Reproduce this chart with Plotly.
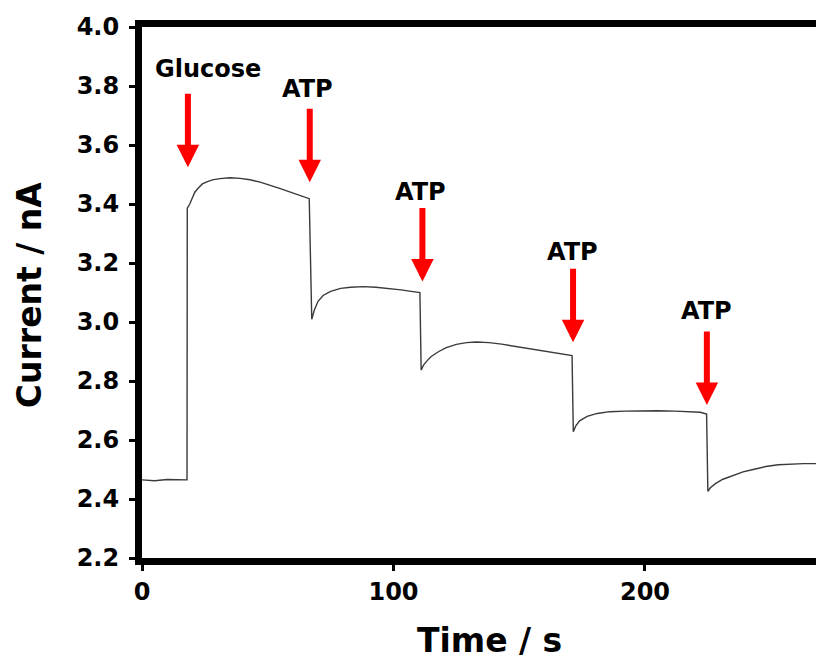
import plotly.graph_objects as go

# Amperometric trace
time_s = [0, 5, 10, 15, 17.9, 18.0,
          19, 20, 21, 22.5, 24, 26, 28, 31, 35, 39, 43, 47, 51, 55, 59, 63, 66.5,
          67.5, 68.5, 70, 72, 75, 79, 83, 88, 93, 98, 103, 107, 110.5,
          111, 112, 113.5, 115, 118, 121, 125, 129, 133, 138, 143, 148, 153, 158, 163, 167, 171,
          171.5, 172.5, 174, 177, 181, 186, 192, 198, 205, 212, 218, 222, 224.5,
          225, 226, 228, 231, 235, 239, 243, 248, 253, 258, 263, 268]
current_nA = [2.465, 2.462, 2.466, 2.465, 2.465, 3.386,
              3.40, 3.42, 3.44, 3.455, 3.468, 3.476, 3.482, 3.486, 3.489, 3.487, 3.482, 3.474, 3.464, 3.452, 3.440, 3.428, 3.418,
              3.009, 3.04, 3.07, 3.09, 3.104, 3.114, 3.118, 3.12, 3.118, 3.114, 3.109, 3.104, 3.10,
              2.837, 2.855, 2.87, 2.883, 2.90, 2.913, 2.924, 2.93, 2.932, 2.93, 2.925, 2.918, 2.911, 2.904, 2.896, 2.89, 2.886,
              2.628, 2.648, 2.665, 2.68, 2.69, 2.696, 2.698, 2.699, 2.699, 2.698, 2.696, 2.694, 2.688,
              2.426, 2.438, 2.452, 2.467, 2.48, 2.492, 2.50, 2.51, 2.516, 2.519, 2.52, 2.52]

# Injection events
event_labels = ["Glucose", "ATP", "ATP", "ATP", "ATP"]
event_time = [18.25, 66.7, 111.5, 171.4, 224.6]
arrow_tip_y = [3.525, 3.474, 3.137, 2.931, 2.719]
label_x = [26.2, 65.9, 110.7, 171.0, 224.6]
label_y = [3.858, 3.791, 3.44, 3.238, 3.036]

x_ticks = [0, 100, 200]
y_ticks = [2.2, 2.4, 2.6, 2.8, 3.0, 3.2, 3.4, 3.6, 3.8, 4.0]
y_ticklabels = ["%.1f" % v for v in y_ticks]

FONT = "DejaVu Sans"

fig = go.Figure()
fig.add_trace(go.Scatter(x=time_s, y=current_nA, mode="lines",
                         line=dict(color="#3a3a3a", width=1.4), showlegend=False))

ann = []
for t, tip in zip(event_time, arrow_tip_y):
    ann.append(dict(x=t, y=tip, xref="x", yref="y", text="", showarrow=True,
                    ax=0, ay=-75, arrowcolor="#ff0000", arrowwidth=6,
                    arrowhead=2, arrowsize=0.75, standoff=0))
for lab, lx, ly in zip(event_labels, label_x, label_y):
    ann.append(dict(x=lx, y=ly, xref="x", yref="y", text=lab, showarrow=False,
                    font=dict(family=FONT, size=24, color="black", weight="bold"),
                    xanchor="center", yanchor="middle"))
ann.append(dict(x=0.515, y=-0.1563, xref="paper", yref="paper", text="Time / s",
                showarrow=False,
                font=dict(family=FONT, size=33, color="black", weight="bold"),
                xanchor="center", yanchor="middle"))
ann.append(dict(x=-0.1677, y=0.495, xref="paper", yref="paper", text="Current / nA",
                showarrow=False, textangle=-90,
                font=dict(family=FONT, size=33, color="black", weight="bold"),
                xanchor="center", yanchor="middle"))

fig.update_layout(
    width=816, height=664,
    margin=dict(l=142, r=0, t=27, b=106),
    paper_bgcolor="white", plot_bgcolor="white",
    annotations=ann,
    xaxis=dict(range=[0, 268], tickvals=x_ticks, showgrid=False, zeroline=False,
               showline=True, linecolor="black", linewidth=7, mirror=True,
               ticks="outside", ticklen=6, tickwidth=3, tickcolor="black",
               tickfont=dict(family=FONT, size=24, color="black", weight="bold")),
    yaxis=dict(range=[2.2, 4.0], tickvals=y_ticks, ticktext=y_ticklabels,
               showgrid=False, zeroline=False,
               showline=True, linecolor="black", linewidth=7, mirror=False,
               ticks="outside", ticklen=6, tickwidth=3, tickcolor="black",
               ticklabelstandoff=5,
               tickfont=dict(family=FONT, size=24, color="black", weight="bold")),
)

fig.write_html("out.html")
